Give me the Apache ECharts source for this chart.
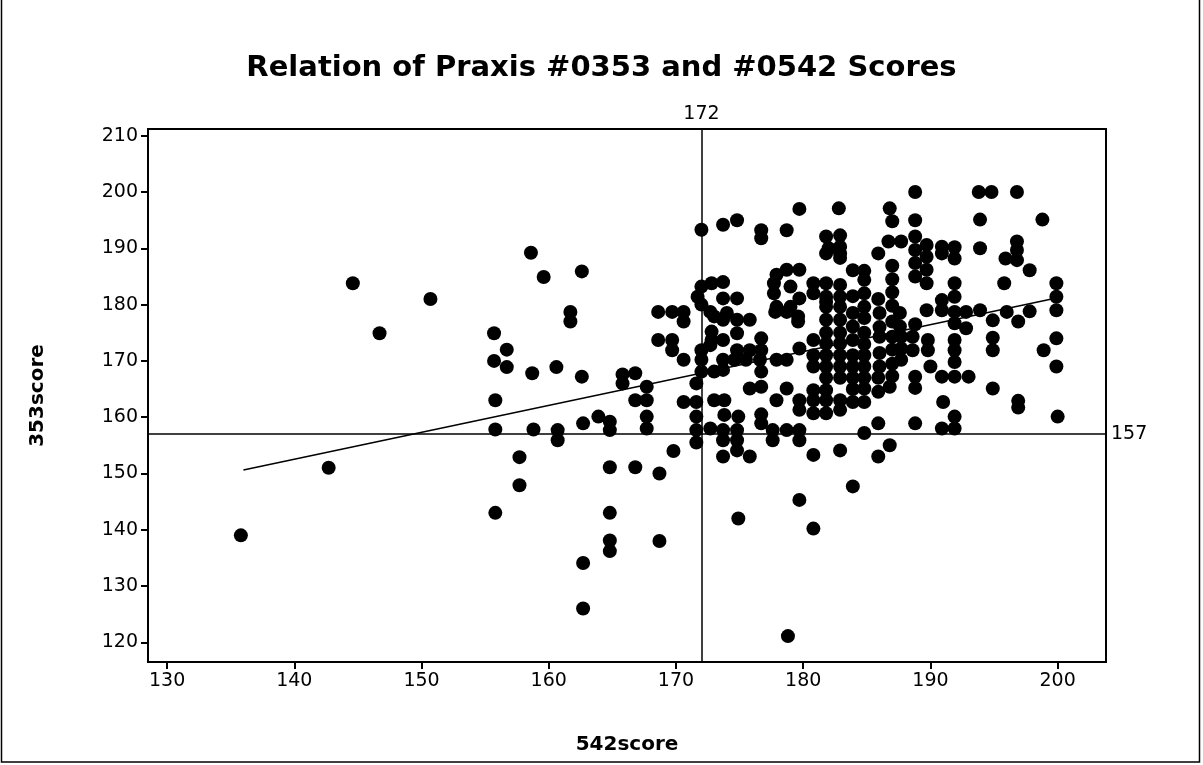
<!DOCTYPE html>
<html>
<head>
<meta charset="utf-8">
<script src="https://cdn.jsdelivr.net/npm/echarts@6/dist/echarts.min.js"></script>
<style>
    html, body { margin: 0; padding: 0; background: #fff; }
    #main { width: 1203px; height: 765px; }
</style>
</head>
<body>
<div id="main"></div>
<script>
// 542score vs 353score
var points = [
    [135.8,139],[142.7,151],[144.6,183.8],[146.7,174.9],[150.7,181],
    [155.7,174.9],[155.7,170],[155.8,163],[155.8,157.8],[155.8,143],
    [156.7,172],[156.7,168.9],[157.7,152.9],[157.7,147.9],
    [158.6,189.2],[158.7,167.8],[158.8,157.8],[159.6,184.9],
    [160.6,168.9],[160.7,157.7],[160.7,155.9],[161.7,178.7],[161.7,177],
    [162.6,185.9],[162.6,167.2],[162.7,158.9],[162.7,134.1],[162.7,126],
    [163.9,160.1],[164.8,159.2],[164.8,157.7],[164.8,151.1],[164.8,143],[164.8,138.1],[164.8,136.2],
    [165.8,167.6],[165.8,166],[166.8,167.8],[166.8,163],[166.8,151.1],
    [167.7,165.4],[167.7,163],[167.7,160.1],[167.7,158],
    [168.6,178.7],[168.6,173.7],[168.7,150],[168.7,138],
    [169.7,178.7],[169.7,173.7],[169.7,171.9],[169.8,154],
    [170.6,178.7],[170.6,177],[170.6,170.2],[170.6,162.7],
    [172,193.3],[172,183.2],[172,180],[171.7,181.4],[172,171.9],[172,170.2],[172,168.1],[171.6,166],
    [171.6,162.7],[171.6,160.1],[171.6,157.7],[171.6,155.5],
    [172.8,183.8],[172.7,178.7],[173,177.9],[172.8,175.2],[172.8,173.7],[172.7,172.8],[173,168.1],[173,163],[172.7,158],
    [173.7,194.2],[173.7,184],[173.7,181.1],[174,178.5],[173.7,177.3],[173.7,173.7],[173.7,170.2],[173.7,168.4],
    [173.8,163],[173.8,160.4],[173.7,157.7],[173.7,155.9],[173.7,153],
    [174.8,195],[174.8,181.1],[174.8,177.3],[174.8,174.9],[174.8,171.9],[174.6,170.2],[174.9,160.1],[174.8,157.7],
    [174.8,155.9],[174.8,154.1],[174.9,142],
    [175.8,177.3],[175.8,171.9],[175.5,170.2],[175.8,165.1],[175.8,153],
    [176.7,193.2],[176.7,191.8],[176.7,174],[176.7,171.9],[176.6,170.2],[176.7,168.1],[176.7,165.4],[176.7,160.5],[176.7,158.9],
    [177.9,185.3],[177.7,183.8],[177.7,182],[177.9,179.6],[177.8,178.7],[177.9,170.2],[177.9,163],[177.6,157.7],[177.6,155.9],
    [178.7,193.2],[178.7,186.2],[179,183.2],[179,179.6],[178.7,178.7],[178.7,170.2],[178.7,165.1],[178.7,157.7],[178.8,121.1],
    [179.7,197],[179.7,186.2],[179.7,181.1],[179.6,177.9],[179.6,177],[179.7,172.2],[179.7,163],[179.7,161.3],
    [179.7,157.7],[179.7,155.9],[179.7,145.3],
    [180.8,183.8],[180.8,182],[180.8,173.7],[180.8,171],[180.8,169],[180.8,164.8],[180.8,163],[180.8,160.7],[180.8,153.3],[180.8,140.2],
    [181.8,192.1],[182,190],[181.8,189.1],[181.8,183.8],[181.8,181.4],[181.8,180.5],[181.8,179.6],[181.8,177.3],[181.8,175],
    [181.8,173.1],[181.8,171],[181.8,169],[181.8,167],[181.8,164.8],[181.8,163],[181.8,160.7],
    [182.8,197.1],[182.9,192.3],[182.9,190.3],[182.9,189.1],[182.9,188.3],[182.9,183.5],[182.9,181.4],[182.9,179.6],
    [182.9,177.3],[182.9,175],[182.9,173.1],[182.9,171],[182.9,169],[182.9,167],[182.9,163],[182.9,161.3],[182.9,154.1],
    [183.9,186.1],[183.9,181.5],[183.9,178.5],[183.9,176.1],[183.9,173.7],[183.9,171],[183.9,169],[183.9,167],[183.9,165],[183.9,162.7],[183.9,147.7],
    [184.8,186],[184.8,184.4],[184.8,182],[184.8,179.6],[184.8,177.6],[184.8,175],[184.8,173],[184.8,171],[184.8,169],
    [184.8,167],[184.8,165.1],[184.8,162.7],[184.8,157.2],
    [185.9,189.1],[185.9,181],[186,178.5],[186,176],[186,174.3],[186,171.4],[186,169],[185.9,167],[185.9,164.5],[185.9,158.9],[185.9,153],
    [186.8,197.1],[187,194.8],[186.7,191.2],[187,186.9],[187,184.5],[187,182.2],[187,179.8],[187,177],[187,174.3],
    [187,172],[187,169.5],[187,167.3],[186.8,165.4],[186.8,155],
    [187.7,191.2],[187.6,178.5],[187.6,176.1],[187.7,174.3],[187.7,172.2],[187.7,170.2],
    [188.8,200],[188.8,195],[188.8,192.1],[188.8,189.7],[188.8,187.4],[188.8,185],[188.8,176.5],[188.6,174.3],
    [188.6,171.9],[188.8,167.2],[188.8,165.2],[188.8,158.9],
    [189.7,190.6],[189.7,188.5],[189.7,186.2],[189.7,183.8],[189.7,179],[189.8,173.7],[189.8,171.9],[190,169],
    [190.9,190.3],[190.9,189.1],[190.9,180.8],[190.9,179],[190.9,167.2],[191,162.7],[190.9,158],
    [191.9,190.2],[191.9,188.2],[191.9,183.8],[191.9,181.4],[191.9,178.7],[191.9,176.7],[191.9,173.7],
    [191.9,171.9],[191.9,169.8],[191.9,167.2],[191.9,160.1],[191.9,158],
    [192.8,178.7],[192.8,175.8],[193,167.2],
    [193.8,200],[193.9,195.1],[193.9,190],[193.9,179],
    [194.8,200],[194.9,177.2],[194.9,174.1],[194.9,171.9],[194.9,165.1],
    [195.9,188.2],[195.8,183.8],[196,178.7],
    [196.8,200],[196.8,191.2],[196.8,189.7],[196.8,187.9],[196.9,177],[196.9,162.9],[196.9,161.7],
    [197.8,186.1],[197.8,178.8],
    [198.8,195.1],[198.9,171.9],
    [199.9,183.8],[199.9,181.4],[199.9,179],[199.9,174],[199.9,169],[200,160.1]
];
var fitLine = [[136, 150.6], [200, 181.2]];
var refX = 172;
var refY = 157;
var xTicks = [130, 140, 150, 160, 170, 180, 190, 200];
var yTicks = [120, 130, 140, 150, 160, 170, 180, 190, 200, 210];

var myChart = echarts.init(document.getElementById('main'));
var fontFam = 'DejaVu Sans';

var option = {
    backgroundColor: '#fff',
    animation: false,
    title: {
        text: 'Relation of Praxis #0353 and #0542 Scores',
        left: 'center',
        top: 49,
        textStyle: { fontFamily: fontFam, fontSize: 29, fontWeight: 'bold', color: '#000' }
    },
    graphic: [{
        type: 'rect',
        shape: { x: 1.5, y: -2, width: 1198, height: 764 },
        style: { fill: 'none', stroke: '#000', lineWidth: 1.5 },
        silent: true
    }],
    grid: {
        left: 148, right: 97, top: 129, bottom: 103,
        show: true, borderColor: '#000', borderWidth: 2
    },
    xAxis: {
        type: 'value',
        min: 128.5, max: 203.8,
        name: '542score',
        nameLocation: 'middle',
        nameGap: 73,
        nameTextStyle: { fontFamily: fontFam, fontSize: 20, fontWeight: 'bold', color: '#000' },
        axisLine: { show: true, onZero: false, lineStyle: { color: '#000', width: 2 } },
        axisTick: { show: true, length: 7, customValues: xTicks, lineStyle: { color: '#000', width: 2 } },
        axisLabel: { customValues: xTicks, margin: 10, fontFamily: fontFam, fontSize: 19, color: '#000' },
        splitLine: { show: false }
    },
    yAxis: {
        type: 'value',
        min: 116.5, max: 211.2,
        name: '353score',
        nameLocation: 'middle',
        nameGap: 100,
        nameTextStyle: { fontFamily: fontFam, fontSize: 20, fontWeight: 'bold', color: '#000' },
        axisLine: { show: true, onZero: false, lineStyle: { color: '#000', width: 2 } },
        axisTick: { show: true, length: 7, customValues: yTicks, lineStyle: { color: '#000', width: 2 } },
        axisLabel: { customValues: yTicks, margin: 10, fontFamily: fontFam, fontSize: 19, color: '#000' },
        splitLine: { show: false }
    },
    series: [
        {
            name: 'scores',
            type: 'scatter',
            symbol: 'circle',
            symbolSize: 14,
            itemStyle: { color: '#000', opacity: 1 },
            data: points,
            markLine: {
                silent: true,
                symbol: ['none', 'none'],
                lineStyle: { color: '#000', width: 1.5, type: 'solid' },
                label: {
                    show: true,
                    position: 'end',
                    fontFamily: fontFam,
                    fontSize: 19,
                    color: '#000',
                    formatter: function (p) { return p.value; }
                },
                data: [{ xAxis: refX }, { yAxis: refY }]
            }
        },
        {
            name: 'fit',
            type: 'line',
            showSymbol: false,
            lineStyle: { color: '#000', width: 1.5 },
            data: fitLine,
            z: 3
        }
    ]
};
myChart.setOption(option);
</script>
</body>
</html>
